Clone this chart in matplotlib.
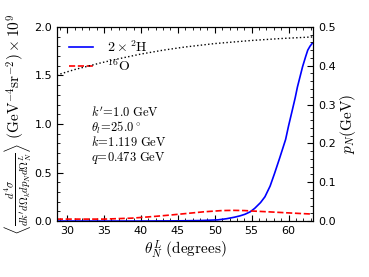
import numpy as np
import matplotlib
matplotlib.use("Agg")
import matplotlib.pyplot as plt
from matplotlib.ticker import MultipleLocator

plt.rcParams['mathtext.fontset'] = 'cm'

# Data
theta_H = [28.6, 35, 40, 45, 48, 50.4, 51.6, 52.7, 53.4, 54.1, 54.8, 55.4, 56.2, 56.8, 57.5,
           58.1, 58.8, 59.6, 60.0, 60.5, 60.9, 61.2, 61.6, 61.9, 62.3, 62.6, 62.9, 63.2]
sigma_H = [0.0, 0.0, 0.0, 0.002, 0.005, 0.012, 0.024, 0.04, 0.053, 0.07, 0.095, 0.13, 0.19, 0.25, 0.36,
           0.49, 0.65, 0.84, 0.98, 1.14, 1.27, 1.38, 1.50, 1.59, 1.69, 1.76, 1.80, 1.83]

theta_O = [28.6, 32, 35, 38.8, 41.9, 44, 46.2, 48.5, 51, 52.5, 54, 55.4, 57.5, 59.5, 61.5, 63.2]
sigma_O = [0.02, 0.02, 0.02, 0.03, 0.048, 0.062, 0.078, 0.095, 0.108, 0.11, 0.108, 0.102, 0.094, 0.086, 0.078, 0.072]

theta_p = [28.6, 31, 34.5, 37, 40, 43, 45.9, 50, 55, 59, 63.2]
p_N = [0.376, 0.39, 0.407, 0.418, 0.43, 0.44, 0.448, 0.457, 0.465, 0.47, 0.474]

annotations = [r"$k'\!=\!1.0\ \mathrm{GeV}$", r"$\theta_l\!=\!25.0^\circ$",
               r"$k\!=\!1.119\ \mathrm{GeV}$", r"$q\!=\!0.473\ \mathrm{GeV}$"]

fig = plt.figure(figsize=(3.69, 2.77), dpi=100)
ax = fig.add_axes([0.154, 0.202, 0.694, 0.701])
ax.plot(theta_H, sigma_H, color='blue', lw=1.2, label=r'$2\times{}^2\mathrm{H}$')
ax.plot(theta_O, sigma_O, color='red', lw=1.2, ls='--', label=r'${}^{16}\mathrm{O}$')
ax.set_xlim(28.6, 63.3)
ax.set_ylim(0, 2.0)
ax.xaxis.set_major_locator(MultipleLocator(5))
ax.xaxis.set_minor_locator(MultipleLocator(1))
ax.yaxis.set_major_locator(MultipleLocator(0.5))
ax.yaxis.set_minor_locator(MultipleLocator(0.1))
ax.tick_params(which='both', direction='in', top=True, right=False, labelsize=8)
ax.tick_params(which='major', length=4)
ax.tick_params(which='minor', length=2)
ax.set_xlabel(r'$\theta_N^L\ \mathrm{(degrees)}$', fontsize=11, labelpad=2)
ax.set_ylabel(r'$\left\langle\frac{d^4\sigma}{dk^\prime d\Omega_k dp_N d\Omega_N^L}\right\rangle\ (\mathrm{GeV}^{-4}\mathrm{sr}^{-2})\times 10^9$',
              fontsize=11, labelpad=1)
leg = ax.legend(loc='upper left', frameon=False, fontsize=10, handlelength=1.7,
                handletextpad=1.0, borderaxespad=0.5, labelspacing=0.25,
                bbox_to_anchor=(0.0, 1.0))
for i, t in enumerate(annotations):
    ax.text(0.135, 0.535 - i * 0.075, t, transform=ax.transAxes, fontsize=9)

ax2 = ax.twinx()
ax2.plot(theta_p, p_N, color='black', lw=1.0, ls=':')
ax2.set_ylim(0, 0.5)
ax2.yaxis.set_major_locator(MultipleLocator(0.1))
ax2.yaxis.set_minor_locator(MultipleLocator(0.02))
ax2.tick_params(which='both', direction='in', labelsize=8)
ax2.tick_params(which='major', length=4)
ax2.tick_params(which='minor', length=2)
ax2.set_ylabel(r'$p_N\mathrm{(GeV)}$', fontsize=11, labelpad=2)

fig.savefig('out.png', dpi=100)
